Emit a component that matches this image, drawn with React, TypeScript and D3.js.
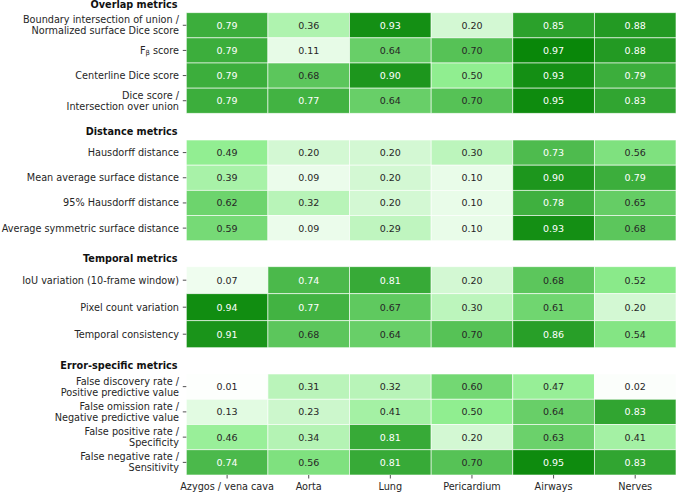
import React from 'react';
import * as d3 from 'd3';

const structures = ['Azygos / vena cava', 'Aorta', 'Lung', 'Pericardium', 'Airways', 'Nerves'];

const sectionTitles = ['Overlap metrics', 'Distance metrics', 'Temporal metrics', 'Error-specific metrics'];

const overlapMetrics = [
  'Boundary intersection of union /\nNormalized surface Dice score',
  'F_β score',
  'Centerline Dice score',
  'Dice score /\nIntersection over union',
];
const overlapValues = [
  [0.79, 0.36, 0.93, 0.2, 0.85, 0.88],
  [0.79, 0.11, 0.64, 0.7, 0.97, 0.88],
  [0.79, 0.68, 0.9, 0.5, 0.93, 0.79],
  [0.79, 0.77, 0.64, 0.7, 0.95, 0.83],
];

const distanceMetrics = [
  'Hausdorff distance',
  'Mean average surface distance',
  '95% Hausdorff distance',
  'Average symmetric surface distance',
];
const distanceValues = [
  [0.49, 0.2, 0.2, 0.3, 0.73, 0.56],
  [0.39, 0.09, 0.2, 0.1, 0.9, 0.79],
  [0.62, 0.32, 0.2, 0.1, 0.78, 0.65],
  [0.59, 0.09, 0.29, 0.1, 0.93, 0.68],
];

const temporalMetrics = ['IoU variation (10-frame window)', 'Pixel count variation', 'Temporal consistency'];
const temporalValues = [
  [0.07, 0.74, 0.81, 0.2, 0.68, 0.52],
  [0.94, 0.77, 0.67, 0.3, 0.61, 0.2],
  [0.91, 0.68, 0.64, 0.7, 0.86, 0.54],
];

const errorMetrics = [
  'False discovery rate /\nPositive predictive value',
  'False omission rate /\nNegative predictive value',
  'False positive rate /\nSpecificity',
  'False negative rate /\nSensitivity',
];
const errorValues = [
  [0.01, 0.31, 0.32, 0.6, 0.47, 0.02],
  [0.13, 0.23, 0.41, 0.5, 0.64, 0.83],
  [0.46, 0.34, 0.81, 0.2, 0.63, 0.41],
  [0.74, 0.56, 0.81, 0.7, 0.95, 0.83],
];

const W = 676;
const H = 492;
const FONT = 'DejaVu Sans, sans-serif';
const FS = 9.7;
const INK = '#262626';

// panel extents (top, bottom) for each metric group
const panels: [number, number][] = [
  [12.7, 113.3],
  [140, 240.7],
  [266.7, 347.7],
  [374, 475],
];

const color = d3
  .scaleLinear<string>()
  .domain([0, 0.5, 1])
  .range(['#ffffff', '#90ee90', '#008000'])
  .interpolate(d3.interpolateRgb);

// seaborn-style annotation colour: dark text on light cells
const luminance = (c: string) => {
  const rgb = d3.rgb(c);
  const lin = (v: number) => {
    const s = v / 255;
    return s <= 0.03928 ? s / 12.92 : Math.pow((s + 0.055) / 1.055, 2.4);
  };
  return 0.2126 * lin(rgb.r) + 0.7152 * lin(rgb.g) + 0.0722 * lin(rgb.b);
};

const x = d3.scaleBand<string>().domain(structures).range([186.3, 676]);

const renderLabel = (label: string, cx: number, cy: number) => {
  const lines = label.split('\n');
  const lh = 11;
  return lines.map((line, i) => {
    const y = cy + (i - (lines.length - 1) / 2) * lh;
    if (line.startsWith('F_β')) {
      return (
        <text key={i} x={cx} y={y} textAnchor="end" dominantBaseline="central">
          F<tspan fontSize={FS * 0.7} dy={2.5}>β</tspan>
          <tspan dy={-2.5}> score</tspan>
        </text>
      );
    }
    return (
      <text key={i} x={cx} y={y} textAnchor="end" dominantBaseline="central">
        {line}
      </text>
    );
  });
};

const App = () => {
  const groups = [
    { metrics: overlapMetrics, values: overlapValues },
    { metrics: distanceMetrics, values: distanceValues },
    { metrics: temporalMetrics, values: temporalValues },
    { metrics: errorMetrics, values: errorValues },
  ];

  return (
    <svg
      width={W}
      height={H}
      style={{ position: 'absolute', left: 0, top: 0, background: '#fff' }}
      fontFamily={FONT}
      fontSize={FS}
    >
      {groups.map((g, gi) => {
        const [top, bottom] = panels[gi];
        const y = d3.scaleBand<string>().domain(g.metrics).range([top, bottom]);
        return (
          <g key={gi}>
            <text
              x={177.5}
              y={top - 8.3}
              textAnchor="end"
              dominantBaseline="central"
              fontWeight="bold"
              fill="#111"
            >
              {sectionTitles[gi]}
            </text>
            {g.metrics.map((m, ri) =>
              structures.map((s, ci) => {
                const v = g.values[ri][ci];
                const fill = color(v);
                const cx = (x(s) ?? 0) + x.bandwidth() / 2;
                const cy = (y(m) ?? 0) + y.bandwidth() / 2;
                return (
                  <g key={`${ri}-${ci}`}>
                    <rect
                      x={x(s)}
                      y={y(m)}
                      width={x.bandwidth()}
                      height={y.bandwidth()}
                      fill={fill}
                      stroke="#ffffff"
                      strokeOpacity={0.75}
                      strokeWidth={0.8}
                    />
                    <text
                      x={cx}
                      y={cy}
                      textAnchor="middle"
                      dominantBaseline="central"
                      fontSize={9.5}
                      fill={luminance(fill) > 0.408 ? INK : '#ffffff'}
                    >
                      {v.toFixed(2)}
                    </text>
                  </g>
                );
              })
            )}
            {g.metrics.map((m, ri) => {
              const cy = (y(m) ?? 0) + y.bandwidth() / 2;
              return (
                <g key={`t${ri}`} fill={INK}>
                  <line x1={182.8} x2={186.3} y1={cy} y2={cy} stroke={INK} strokeWidth={0.8} />
                  {renderLabel(m, 179, cy)}
                </g>
              );
            })}
            {gi === groups.length - 1 &&
              structures.map((s) => {
                const cx = (x(s) ?? 0) + x.bandwidth() / 2;
                return (
                  <g key={s} fill={INK}>
                    <line x1={cx} x2={cx} y1={bottom} y2={bottom + 3.5} stroke={INK} strokeWidth={0.8} />
                    <text x={cx} y={bottom + 14.5} textAnchor="middle">
                      {s}
                    </text>
                  </g>
                );
              })}
          </g>
        );
      })}
    </svg>
  );
};

export default App;
